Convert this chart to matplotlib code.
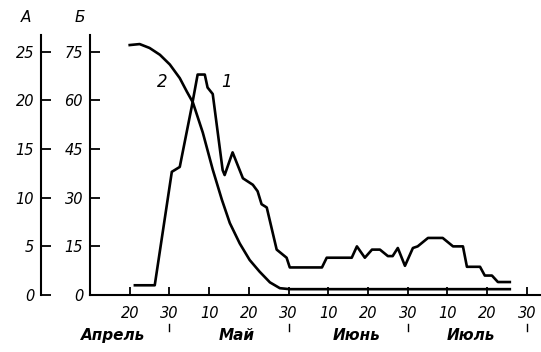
import matplotlib.pyplot as plt
import matplotlib.transforms as mtransforms

# x in "days" on an even 10-day grid: 20 = 20 Apr, 30 = 30 Apr, 40 = 10 May ...
tick_pos = [20, 30, 40, 50, 60, 70, 80, 90, 100, 110, 120]
tick_lab = ['20', '30', '10', '20', '30', '10', '20', '30', '10', '20', '30']
months = ['Апрель', 'Май', 'Июнь', 'Июль']
month_pos = [15.7, 47, 77.2, 106]
month_sep = [30, 60, 90, 120]

# curve 1, scale Б
days1 = [21.3, 26.3, 30.6, 32.6, 35.6, 37.1, 38.9, 39.6, 40.9, 43.4, 43.9, 45.9,
         48.5, 51.0, 52.2, 53.2, 54.5, 57.0, 59.5, 60.3, 68.4, 69.6, 75.9, 77.2,
         79.2, 81.0, 83.0, 85.0, 86.2, 87.5, 89.3, 91.3, 92.5, 95.1, 98.8, 101.4,
         103.9, 104.9, 108.2, 109.4, 111.2, 112.7, 115.7]
vals1 = [3, 3, 38, 39.5, 58, 68, 68, 64, 62, 38.5, 37, 44,
         36, 34, 32, 28, 27, 14, 11.5, 8.5, 8.5, 11.5, 11.5, 15,
         11.5, 14, 14, 12, 12, 14.5, 9, 14.5, 15, 17.6, 17.6, 15,
         15, 8.7, 8.7, 6, 6, 4, 4]

# curve 2, scale А
days2 = [20.0, 22.5, 25.0, 27.6, 30.1, 32.6, 34.4, 35.9, 38.4, 40.9, 43.2, 45.2,
         47.7, 50.2, 52.7, 55.3, 57.8, 60.3, 115.7]
vals2 = [25.7, 25.8, 25.4, 24.7, 23.7, 22.3, 20.9, 19.8, 16.7, 12.9, 9.8, 7.4,
         5.3, 3.6, 2.4, 1.3, 0.7, 0.6, 0.6]

plt.rcParams['font.family'] = 'DejaVu Sans'
plt.rcParams['font.style'] = 'italic'

fig = plt.figure(figsize=(5.41, 3.52), dpi=100)
ax = fig.add_axes([90/541, 57/352, 450/541, 260/352])
ax.set_xlim(10, 123.3)
ax.set_ylim(0, 80.2)
ax2 = ax.twinx()
ax2.set_ylim(0, 80.2/3)

ax.plot(days1, vals1, color='black', lw=1.9, solid_joinstyle='round')
ax2.plot(days2, vals2, color='black', lw=1.9, solid_joinstyle='round')

for s in ['top', 'right']:
    ax.spines[s].set_visible(False)
for s in ['top', 'right', 'bottom']:
    ax2.spines[s].set_visible(False)
ax2.spines['left'].set_visible(True)
ax2.spines['left'].set_position(('axes', -49/450))
ax2.yaxis.set_ticks_position('left')
for sp in list(ax.spines.values()) + [ax2.spines['left']]:
    sp.set_linewidth(1.5)

ax.set_yticks([0, 15, 30, 45, 60, 75])
ax2.set_yticks([0, 5, 10, 15, 20, 25])
ax.set_xticks(tick_pos)
ax.set_xticklabels(tick_lab)
ax.tick_params(axis='y', direction='in', length=7, width=1.3, pad=5, labelsize=10.5)
ax2.tick_params(axis='y', direction='in', length=7, width=1.3, pad=5, labelsize=10.5)
ax.tick_params(axis='x', direction='in', length=6, width=1.3, pad=8, labelsize=10.5)

trans = mtransforms.blended_transform_factory(ax.transData, ax.transAxes)
for m, p in zip(months, month_pos):
    ax.text(p, -0.157, m, transform=trans, ha='center', va='center',
            fontsize=11, fontweight='bold')
for p in month_sep:
    ax.plot([p, p], [-0.11, -0.14], transform=trans, color='black', lw=1.0, clip_on=False)

ax.text(44.4, 65.7, '1', fontsize=12, ha='center', va='center')
ax.text(28.3, 65.7, '2', fontsize=12, ha='center', va='center')

fig.text(26/541, 1 - 18/352, 'А', fontsize=11, ha='center', va='center')
fig.text(80/541, 1 - 18/352, 'Б', fontsize=11, ha='center', va='center')

fig.savefig('out.png', dpi=100)
